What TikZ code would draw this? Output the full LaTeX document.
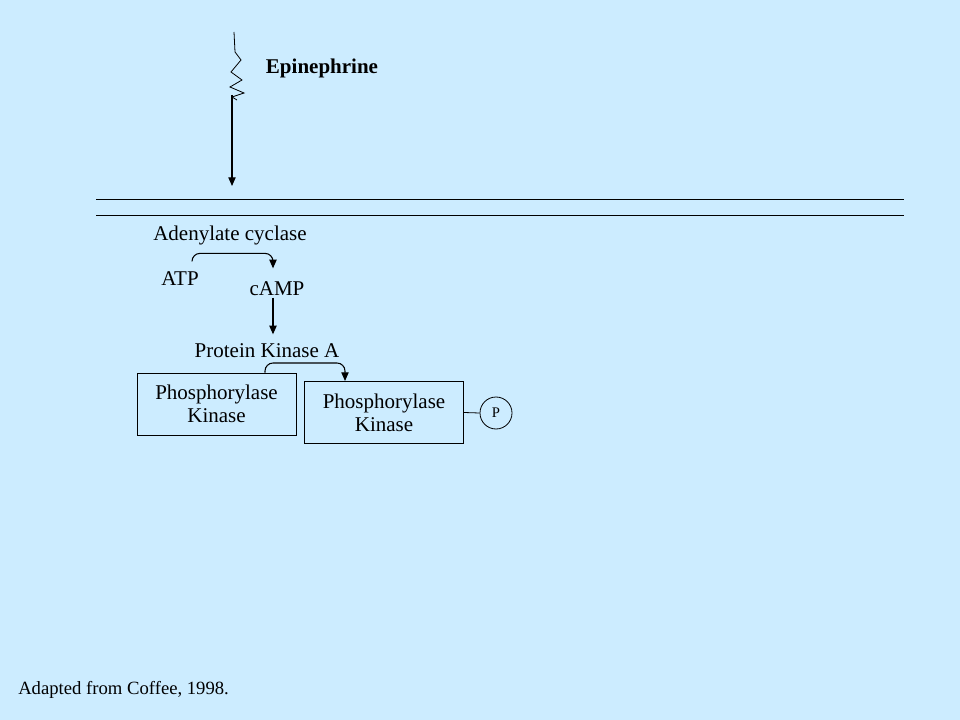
\documentclass[tikz,border=0pt]{standalone}
\usepackage{fontspec}
\setmainfont{Liberation Serif}
\usepackage{xcolor}
\usetikzlibrary{positioning,calc,arrows.meta}
\definecolor{slidebg}{HTML}{CCECFF}
\tikzset{label node/.style={font=\fontsize{15.75}{18}\selectfont,inner sep=1pt}}
\tikzset{kinase node/.style={draw,line width=0.75pt,minimum width=119.25pt,minimum height=46.5pt,align=center,font=\fontsize{15.75}{17.5}\selectfont,inner sep=0pt}}
\tikzset{phospho node/.style={circle,draw,line width=0.6pt,minimum size=24pt,inner sep=0pt,font=\fontsize{11}{13}\selectfont}}
\tikzset{react/.style={-{Triangle[length=6.5pt,width=5.5pt]},line width=0.8pt,rounded corners=6pt}}

\begin{document}
\begin{tikzpicture}[x=0.75pt,y=-0.75pt]
      \fill[slidebg] (0,0) rectangle (960,720);
      % ligand and receptor
      \node[label node,font=\fontsize{15.75}{18}\selectfont\bfseries] (epi) at (322,68) {Epinephrine};
      \coordinate (lig) at (232,95);
      \coordinate (rec) at (232,186);
      \draw[line width=0.6pt] (234,32) -- (235,52) -- (241,60) -- (231,72) -- (242,80) -- (230,87) -- (244,93) -- (232,97) -- (237,100);
      \draw[react] (lig) -- (rec);
      % membrane
      \draw[line width=0.75pt] (96,200) -- (904,200);
      \draw[line width=0.75pt] (96,216) -- (904,216);
      % cascade
      \node[label node] (ac) at (230,235) {Adenylate cyclase};
      \node[label node] (atp) at (180,279) {ATP};
      \node[label node] (camp) at (277,289) {cAMP};
      \node[label node] (pka) at (267,351) {Protein Kinase A};
      \node[kinase node] (pk1) at (216.5,404) {Phosphorylase\\Kinase};
      \node[kinase node] (pk2) at (384,412.5) {Phosphorylase\\Kinase};
      \node[phospho node] (pi) at (496,413) {P};
      \draw[react] ($(atp.north)+(12,-9)$) |- ($(camp.north)+(-4,-27)$) -- ($(camp.north)+(-4,-12)$);
      \draw[react] ($(camp.south)+(-4,0)$) -- ($(pka.north)+(6,-8)$);
      \draw[react] ($(pk1.north)+(48.5,0)$) |- ($(pk2.north)+(-39,-18)$) -- ($(pk2.north)+(-39,0)$);
      \draw[line width=0.6pt] (pk2.east) -- (pi.west);
      \node[anchor=west,font=\fontsize{14}{16}\selectfont,inner sep=0pt] (src) at (18,690) {Adapted from Coffee, 1998.};
    \end{tikzpicture}
\end{document}
